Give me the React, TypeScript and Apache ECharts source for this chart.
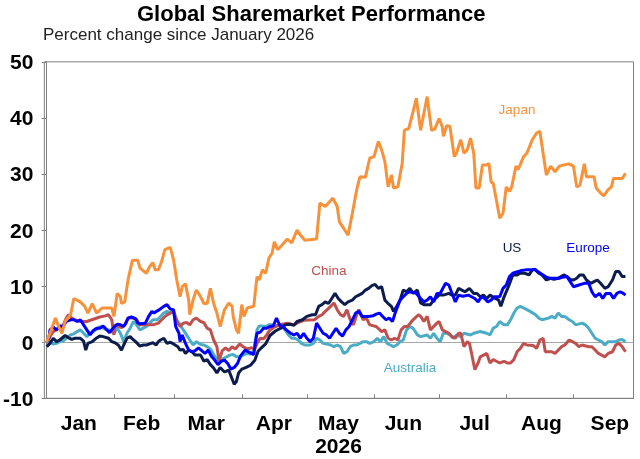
import React, { useEffect, useRef } from 'react';
import * as echarts from 'echarts';

// x values are days since 1 January 2026, y values are percent change
const monthLabels = ['Jan', 'Feb', 'Mar', 'Apr', 'May', 'Jun', 'Jul', 'Aug', 'Sep'];
const monthStarts = [0, 31, 59, 90, 120, 151, 181, 212, 243];
const labelDays = [14.8, 43.8, 73.6, 104.8, 134.6, 164.5, 197.4, 228.2, 259.8];
const yearLabel = '2026';
const yearUnder = 'May';

const japan = [
  [0, 0], [1.5, 1.6], [4, 4.3], [5.5, 2.8], [7, 1.6], [8.5, 3.7], [11, 4.9], [12.5, 7.8], [15.5, 7.2], [17.5, 6.4],
  [19, 5.2], [21, 6.9], [23, 5.2], [25.5, 6.1], [30, 6.1], [31, 4.6], [32.5, 8.7], [34, 8.1], [34.5, 6.9], [36, 7.2],
  [37.5, 11.1], [39.5, 14.6], [42, 14.6], [43, 13.2], [46, 12.3], [47.5, 13.5], [49, 14.2], [50, 12.9], [51.5, 12.9],
  [53, 14.4], [54.5, 16.5], [57, 16.9], [58.5, 14.7], [60, 11.1], [61.5, 8.1], [62.5, 9.9], [64, 10.4], [65.5, 7.5],
  [66, 4.9], [67.5, 7.5], [69, 9.3], [71, 8.1], [72.5, 6.9], [74, 6.9], [75.5, 9.6], [77, 6.9], [78.5, 5.2], [80, 2.8],
  [82, 5.8], [84, 7.0], [85.5, 6.4], [86, 4.6], [87.5, 2.2], [88.5, 1.6], [90, 6.7], [91, 4.6], [92.5, 6.1], [95.5, 6.4],
  [97, 11.7], [98, 11.1], [99.5, 12.9], [101, 12.3], [102.5, 15.0], [104, 15.9], [105, 17.9], [106.5, 16.5], [108.5, 17.3],
  [111, 18.4], [113, 17.7], [115.5, 20.0], [117, 19.1], [119, 18.2], [124.5, 18.4], [126, 24.8], [128.5, 24.2], [132, 25.7],
  [134, 24.2], [135, 21.5], [137, 20.3], [139, 19.1], [141, 23.0], [143, 27.2], [144.5, 29.5], [147, 29.4], [149, 32.8],
  [151, 33.1], [153, 35.8], [154.5, 34.3], [156, 32.2], [157.5, 27.7], [159, 29.8], [160, 27.5], [162, 27.7], [164, 31.9],
  [165, 37.8], [167, 38.1], [168, 39.6], [169, 41.1], [170.5, 43.5], [172.5, 37.8], [175.5, 43.8], [177.5, 37.8], [179, 38],
  [181, 39.9], [182.5, 38.4], [183, 36.7], [184.5, 38.6], [186, 38.5], [188, 33.1], [189, 33.7], [191, 36.1], [192.5, 33.7],
  [194, 34.3], [195.5, 36.4], [197, 33.7], [198, 27.5], [199.5, 27.5], [201, 31.6], [203, 31.6], [204, 31.9], [205, 28.6],
  [206, 28.3], [208, 24.2], [209, 22.1], [210.5, 23], [212, 27.7], [213.5, 26.9], [214.5, 27.7], [216.5, 31.4], [217.5, 30.8],
  [220, 33.1], [221.5, 33.7], [224, 36.1], [226, 37.3], [227.5, 37.6], [229, 33.7], [230.5, 29.8], [232.5, 31.4], [234.5, 30.4],
  [236.5, 31.4], [238.5, 31.6], [241, 31.8], [243, 31.4], [244.5, 27.7], [246, 28], [248, 31.8], [249, 29.5], [252.5, 29.5],
  [253.5, 27.5], [255.5, 26.6], [257, 26.1], [259, 27.2], [260.5, 27.7], [261.5, 29.2], [265.5, 29.2], [267, 30.1],
];

const us = [
  [0, -0.8], [1.5, -0.2], [3, 0.7], [4.5, 0.1], [6, 0.4], [8.5, 1.2], [10, 0.8], [11.5, 0.5], [13, 0.7], [15.5, 0.7],
  [17, 0.2], [18, -1.4], [19, -0.2], [21, 0.1], [22.5, 0.6], [24.5, 1.1], [26, 1.0], [28.5, 0.7], [30, 0.1], [31.5, -0.1],
  [33, -0.5], [34.5, -1.4], [35.5, -0.5], [37, 0.7], [38.5, 1.0], [39.5, 0.6], [41, 0.1], [43, -0.7], [44.5, -0.5],
  [46, -0.5], [47.5, -0.3], [49, -0.1], [50.5, -0.5], [51.5, 0.1], [52.5, 0.4], [54, 0.7], [55.5, -0.2], [57, 0],
  [58.5, -0.3], [60.5, -0.8], [61.5, -1.4], [63, -1.3], [64, -2.0], [65.5, -1.4], [67, -1.7], [68.5, -2.3], [71, -2.3],
  [72.5, -3.4], [74, -3.1], [75.5, -4.0], [77, -4.6], [78.5, -5.5], [80, -4.5], [82, -5.3], [84, -5.0], [85.5, -6.5],
  [86.5, -7.5], [87.5, -7.0], [88.5, -5.5], [90, -4.8], [92, -4.5], [94, -4.1], [96, -3.2], [97.5, -1.6], [99, -1.0],
  [101, -0.3], [103, 1.2], [105.5, 2.0], [108, 2.5], [110, 3.1], [112.5, 3.2], [114, 3.0], [115.5, 3.7], [118, 4.0],
  [120, 4.6], [122.5, 4.9], [124, 4.9], [125.5, 6.4], [127, 6.7], [128.5, 7.2], [130, 6.9], [131.5, 7.8], [133, 8.7],
  [134.5, 7.8], [136, 7.2], [137.5, 6.7], [139, 7.2], [141, 7.5], [142.5, 8.1], [144, 8.4], [145.5, 8.7], [147, 9.3],
  [148.5, 9.6], [150, 10.1], [151.5, 10.3], [153, 9.6], [154.5, 9.9], [156, 7.5], [157.5, 6.9], [159, 6.4], [160, 5.5],
  [161.5, 6.4], [163, 7.5], [164.5, 9.3], [166, 9.0], [167.5, 9.6], [169, 8.7], [171, 9.3], [172.5, 7.0], [174, 6.7],
  [177, 6.7], [178.5, 7.5], [181, 8.4], [183, 8.4], [185.5, 8.7], [187, 8.4], [188.5, 8.4], [190, 9.6], [191.5, 9.3],
  [193, 9.0], [195, 9.6], [197, 8.7], [198.5, 8.7], [200, 8.1], [201.5, 8.4], [203, 7.8], [204.5, 8.4], [207, 7.8],
  [208.5, 7.5], [209.5, 6.4], [211, 8.1], [213, 9.9], [215, 12.0], [217, 12.0], [218.5, 12.3], [220.5, 12.3], [222.5, 12.0],
  [224, 12.9], [225.5, 12.9], [227, 12.3], [228.5, 12.0], [230.5, 11.1], [232.5, 11.4], [234, 11.2], [236, 11.4],
  [238.5, 12.0], [240, 11.7], [241.5, 11.2], [243, 11.1], [244.5, 11.4], [246, 12.0], [247.5, 12.0], [249, 11.1],
  [251, 10.5], [252.5, 10.8], [254, 11.1], [255.5, 10.5], [257.5, 9.6], [259, 9.9], [261, 11.1], [262.5, 12.6],
  [264, 12.6], [265.5, 11.7], [267, 11.7],
];

const europe = [
  [0, 0], [1, 0.7], [1.5, 2.2], [3, 2.7], [4.5, 2.2], [6, 2.9], [7.5, 2.8], [9, 3.7], [11, 4.0], [12.5, 4.0], [14, 3.7],
  [15.5, 4.0], [17, 3.1], [18.5, 2.2], [20, 1.3], [21.5, 2.1], [23, 2.5], [24.5, 2.5], [26, 2.9], [27.5, 2.3], [29, 1.7],
  [31, 2.7], [32.5, 3.2], [34, 3.1], [35.5, 2.8], [36.5, 3.4], [37.5, 4.3], [39, 4.5], [41, 4.2], [42, 3.4], [43, 3.3],
  [45.5, 3.4], [47, 4.6], [48.5, 5.5], [49.5, 5.2], [51, 5.6], [52, 5.8], [54, 6.4], [55.5, 6.7], [57, 5.9], [58.5, 5.8],
  [59.5, 2.8], [61, 1.6], [61.5, 0.1], [62.5, 1.3], [64, -0.2], [65.5, -1.4], [67, -1.7], [68.5, -1.5], [70, -1.0],
  [71.5, -1.5], [73, -2.0], [74.5, -1.4], [76, -2.5], [77.5, -3.2], [79, -4.0], [80.5, -3.4], [82, -3.2], [83.5, -3.8],
  [85, -4.8], [86.5, -4.5], [88, -3.8], [89.5, -2.4], [91.5, -1.4], [93.5, -1.8], [95.5, -2.2], [96.5, 0.5], [97, 1.6],
  [98.5, 1.8], [100, 2.5], [101.5, 2.5], [103, 2.8], [104.5, 2.9], [106, 4.3], [107.5, 3.0], [109, 2.8], [110.5, 2.2],
  [112.5, 1.6], [114, 1.3], [115.5, 1.6], [117, 0.7], [118.5, 1.6], [120, 0.7], [121.5, 0.1], [123, 0.7], [124.5, 3.4],
  [126, 2.5], [127.5, 1.6], [129, 1.3], [130.5, 0.7], [132, 1.6], [133.5, 2.5], [135, 1.6], [136.5, 1.1], [138, 2.2],
  [139.5, 2.8], [141, 4.0], [142.5, 5.2], [144, 5.5], [145.5, 4.6], [147, 4.6], [148.5, 4.6], [150.5, 4.7], [152, 5.0],
  [153.5, 5.2], [155, 4.6], [156.5, 4.0], [158, 4.3], [159.5, 3.7], [161, 5.5], [163, 7.5], [164.5, 8.1], [166, 8.7],
  [167.5, 9.0], [169, 8.9], [170.5, 8.7], [172.5, 7.8], [174, 7.2], [175.5, 7.5], [177, 8.1], [178.5, 7.2], [180, 8.7],
  [181.5, 8.7], [184, 10.5], [185.5, 10.2], [187, 8.7], [188.5, 7.2], [190, 8.4], [192, 8.2], [194.5, 8.4], [196, 8.1],
  [197.5, 7.8], [199, 7.2], [200.5, 8.1], [202, 7.8], [203.5, 7.2], [205, 7.5], [206.5, 8.1], [209, 8.1], [210.5, 9.6],
  [212, 10.2], [213.5, 11.7], [215, 12.3], [217.5, 12.6], [219, 12.8], [221, 12.9], [223.5, 12.9], [225, 13.0],
  [226.5, 12.6], [229, 12.0], [230.5, 11.6], [232, 11.4], [236.5, 11.4], [238, 11.6], [240, 11.7], [241.5, 10.8],
  [243, 9.9], [245.5, 10.2], [248, 10.5], [250, 10.5], [251.5, 9.0], [253, 8.1], [255, 8.7], [256.5, 7.8], [258, 8.7],
  [260, 8.7], [261.5, 7.8], [263, 8.7], [264.5, 9.0], [266, 8.7], [267, 8.4],
];

const china = [
  [0, 0], [1.5, 1.0], [3, 1.9], [4.5, 2.2], [5.5, 2.5], [7, 2.7], [8, 3.4], [9, 4.3], [10, 4.9], [11.5, 4.3], [13, 4.0],
  [15.5, 3.7], [18.5, 3.7], [21.5, 4.1], [24.5, 4.5], [27, 4.7], [28.5, 4.9], [30, 4.0], [31, 1.3], [31.5, 3.1], [33, 2.8],
  [34.5, 2.6], [36, 3.1], [37.5, 4.3], [40, 4.3], [41.5, 4.0], [43, 3.1], [49, 3.1], [51.5, 3.4], [54.5, 4.6], [57, 5.2],
  [58.5, 5.5], [60, 3.7], [61.5, 2.8], [63, 3.4], [64.5, 3.5], [66, 3.1], [67.5, 4.0], [69, 4.3], [71, 3.7], [72.5, 3.5],
  [74, 2.5], [75.5, 2.2], [77, 0.4], [78.5, -0.8], [79.5, -3.3], [81, -1.5], [82.5, -1.0], [84, -1.5], [85.5, -0.8],
  [87, -1.2], [89, -0.3], [90.5, -0.8], [92.5, -1.2], [94.5, -1.0], [96, -1.2], [97, -0.2], [98.5, 0.7], [100, 0.6],
  [101.5, 1.3], [103, 2.2], [105.5, 2.8], [107.5, 3.1], [111, 3.4], [114, 3.1], [116, 3.5], [118.5, 3.9], [123.5, 4.0],
  [125.5, 4.6], [127, 4.9], [128.5, 5.5], [131, 6.4], [132.5, 7.0], [134, 5.8], [135.5, 4.9], [137, 4.6], [138.5, 5.8],
  [140, 4.0], [141.5, 3.1], [143, 4.9], [144, 5.8], [146, 4.0], [147.5, 4.3], [149, 3.1], [152, 2.8], [154.5, 1.9],
  [156, 2.2], [157.5, 0.7], [159, 0.4], [160.5, 0.7], [162, 0.4], [163.5, 2.2], [165, 2.8], [166.5, 2.8], [169, 4.0],
  [171.5, 4.9], [172.5, 4.6], [174, 3.7], [175.5, 4.6], [177, 2.2], [178.5, 2.8], [180, 3.4], [181, 3.7], [182.5, 2.2],
  [184, 1.9], [185.5, 1.6], [187, 1.0], [188.5, 0.7], [190, 1.6], [191, 1.6], [192.5, -0.8], [194, 0.1], [195, -0.2],
  [196, -2.0], [197.5, -4.9], [199, -3.7], [200, -2.6], [201.5, -2.3], [203, -2.0], [204.5, -3.7], [206, -3.1],
  [207.5, -3.4], [209, -3.7], [211, -3.4], [212.5, -3.7], [214, -3.7], [215.5, -3.1], [217, -1.7], [218.5, -1.1],
  [220, -0.2], [221.5, -0.5], [224.5, -0.6], [226, -1.1], [227.5, 0.4], [229, 0.7], [230, -1.7], [233, -1.7],
  [234.5, -2.0], [236, -1.4], [237.5, -0.8], [239, -0.5], [241, 0.4], [242.5, 0.1], [244, -0.2], [245.5, -0.8],
  [247, -0.5], [250, -0.8], [251.5, -0.8], [253, -1.4], [254.5, -2.0], [256, -2.3], [257.5, -2.6], [259, -2.0],
  [261, -1.7], [262.5, -0.5], [264, -0.2], [265.5, -0.8], [267, -1.7],
];

const australia = [
  [0, 0], [1.5, 0.1], [3, -0.3], [4.5, -0.2], [6, 0.1], [7.5, 0.2], [9, 0.7], [11, 1.3], [12.5, 1.5], [14, 1.9],
  [15.5, 2.2], [17, 1.6], [18.5, 1.0], [20, 1.6], [21.5, 1.9], [23, 2.3], [24.5, 2.8], [26, 2.5], [27.5, 2.2], [29, 2.2],
  [31, 1.6], [32.5, 2.5], [34, 1.6], [35.5, 0.1], [37, 1.6], [38.5, 2.5], [40, 3.7], [41.5, 3.1], [43, 2.2], [44.5, 2.5],
  [46, 2.8], [47.5, 3.4], [49, 4.0], [51, 4.0], [52.5, 4.6], [54, 5.2], [55.5, 5.5], [57, 5.2], [58.5, 5.5], [60, 4.0],
  [61.5, 3.1], [63, 2.2], [64.5, 1.3], [66, 0.4], [67.5, -0.5], [69, 0.1], [71, -0.4], [72.5, -0.5], [74, -0.8],
  [75.5, -1.2], [77, -2.2], [78.5, -3.0], [80, -3.4], [81.5, -2.9], [83, -2.6], [84.5, -2.3], [86, -2.2], [87.5, -2.6],
  [89, -2.6], [91, -2.2], [92.5, -2.0], [94, -2.1], [95.5, -1.5], [97, 2.2], [98, 2.9], [99, 2.9], [101, 2.8],
  [102.5, 3.1], [104, 3.1], [105.5, 2.8], [107, 3.1], [108.5, 2.8], [110, 2.2], [111.5, 1.3], [113, 0.7], [114.5, 0.7],
  [116, 0.4], [117.5, -0.2], [119, -0.5], [121.5, -0.5], [123, -0.2], [124.5, 0.7], [126, 0.4], [127.5, -0.2],
  [129, -0.3], [131, -0.5], [132.5, -0.8], [134, -0.5], [135.5, -0.8], [137, -2.0], [138.5, -1.7], [140, -0.8],
  [141.5, -0.5], [143, -0.5], [144.5, -0.2], [146, 0.1], [147.5, 0.1], [149, -0.2], [151, 0.1], [152.5, 0.7],
  [154, 0.1], [155.5, 1.0], [157, -0.2], [158.5, -0.5], [160, -0.8], [161.5, -0.5], [163, 0.1], [164.5, 0.4],
  [166, 2.2], [167.5, 2.8], [169, 2.5], [171, 1.3], [172.5, 1.0], [175.5, 1.3], [177, 0.7], [178.5, 1.6], [180, 0.7],
  [181.5, 0.1], [183, 1.6], [184.5, 1.6], [186, 1.3], [187.5, 0.7], [189, 1.3], [191, 1.0], [192.5, 1.6], [195.5, 1.3],
  [197, 1.6], [200, 1.9], [203, 1.6], [204.5, 1.3], [206, 2.5], [207.5, 2.8], [209, 3.7], [211, 3.1], [212.5, 3.1],
  [214, 4.0], [215.5, 5.2], [217, 6.1], [218.5, 6.4], [220, 6.1], [221.5, 5.8], [223, 5.5], [225.5, 4.9], [227, 4.3],
  [228.5, 4.0], [231.5, 4.3], [233, 4.6], [234.5, 4.3], [236, 5.2], [237.5, 4.6], [239, 4.6], [241, 4.0], [242.5, 3.7],
  [244, 3.1], [247, 3.4], [248.5, 3.1], [250, 2.5], [251.5, 1.6], [253, 0.7], [254.5, 0.4], [256, 0.1], [257.5, -0.5],
  [259, 0.1], [262.5, 0.1], [264, 0.4], [265.5, 0.5], [267, 0.1],
];

const FONT = '"Liberation Sans", Arial, sans-serif';

const seriesDefs = [
  { name: 'Australia', data: australia, color: '#4bacc6', label: [410, 367] },
  { name: 'China', data: china, color: '#c0504d', label: [329, 270] },
  { name: 'US', data: us, color: '#0c1c4c', label: [512, 247] },
  { name: 'Europe', data: europe, color: '#0000ff', label: [588, 247] },
  { name: 'Japan', data: japan, color: '#f7923a', label: [517, 109] },
];

const App: React.FC = () => {
  const chartRef = useRef<HTMLDivElement>(null);

  useEffect(() => {
    const chart = echarts.init(chartRef.current!, null, { renderer: 'svg' });

    const options = {
      animation: false,
      grid: {
        left: 44.3,
        right: 6.5,
        top: 61.8,
        bottom: 60.7,
        show: true,
        borderColor: '#808080',
        borderWidth: 1,
      },
      graphic: [
        {
          type: 'text',
          left: 137,
          top: 2,
          style: {
            text: 'Global Sharemarket Performance',
            fontFamily: FONT,
            fontSize: 22,
            fontWeight: 'bold',
            fill: '#000',
          },
        },
        {
          type: 'text',
          left: 43,
          top: 26,
          style: {
            text: 'Percent change since January 2026',
            fontFamily: FONT,
            fontSize: 17,
            fill: '#222',
          },
        },
        // series name labels inside the plot
        ...seriesDefs.map((s) => ({
          type: 'text',
          x: s.label[0],
          y: s.label[1],
          style: {
            text: s.name,
            fontFamily: FONT,
            fontSize: 13.5,
            fill: s.color,
            align: 'center',
            verticalAlign: 'middle',
          },
        })),
      ],
      xAxis: {
        type: 'value',
        min: -1.1,
        max: 270.7,
        splitLine: { show: false },
        axisLine: { show: true, onZero: false, lineStyle: { color: '#808080', width: 1 } },
        axisTick: {
          show: true,
          inside: true,
          length: 4,
          customValues: monthStarts,
          lineStyle: { color: '#808080' },
        },
        axisLabel: {
          customValues: labelDays,
          margin: 13,
          fontFamily: FONT,
          fontSize: 21,
          fontWeight: 'bold',
          color: '#000',
          lineHeight: 23,
          formatter: (v: number) => {
            const i = labelDays.findIndex((d) => Math.abs(d - v) < 0.01);
            if (i < 0) return '';
            const m = monthLabels[i];
            return m === yearUnder ? m + '\n' + yearLabel : m;
          },
        },
      },
      yAxis: {
        type: 'value',
        min: -10,
        max: 50,
        interval: 10,
        splitLine: { show: false },
        axisLine: { show: true, lineStyle: { color: '#808080', width: 1 } },
        axisTick: { show: true, length: 5, lineStyle: { color: '#808080' } },
        axisLabel: {
          margin: 11,
          fontFamily: FONT,
          fontSize: 21,
          fontWeight: 'bold',
          color: '#000',
        },
      },
      series: seriesDefs.map((s, idx) => ({
        name: s.name,
        type: 'line',
        data: s.data,
        showSymbol: false,
        symbol: 'none',
        z: 3 + idx,
        lineStyle: { color: s.color, width: 3 },
        markLine:
          idx === 0
            ? {
                silent: true,
                symbol: ['none', 'none'],
                label: { show: false },
                z: 1,
                lineStyle: { color: '#a6a6a6', width: 1, type: 'solid' },
                data: [{ yAxis: 0 }],
              }
            : undefined,
      })),
    };

    chart.setOption(options as any);

    return () => {
      chart.dispose();
    };
  }, []);

  return (
    <div
      ref={chartRef}
      style={{ position: 'fixed', left: 0, top: 0, width: '640px', height: '459px' }}
    />
  );
};

export default App;
